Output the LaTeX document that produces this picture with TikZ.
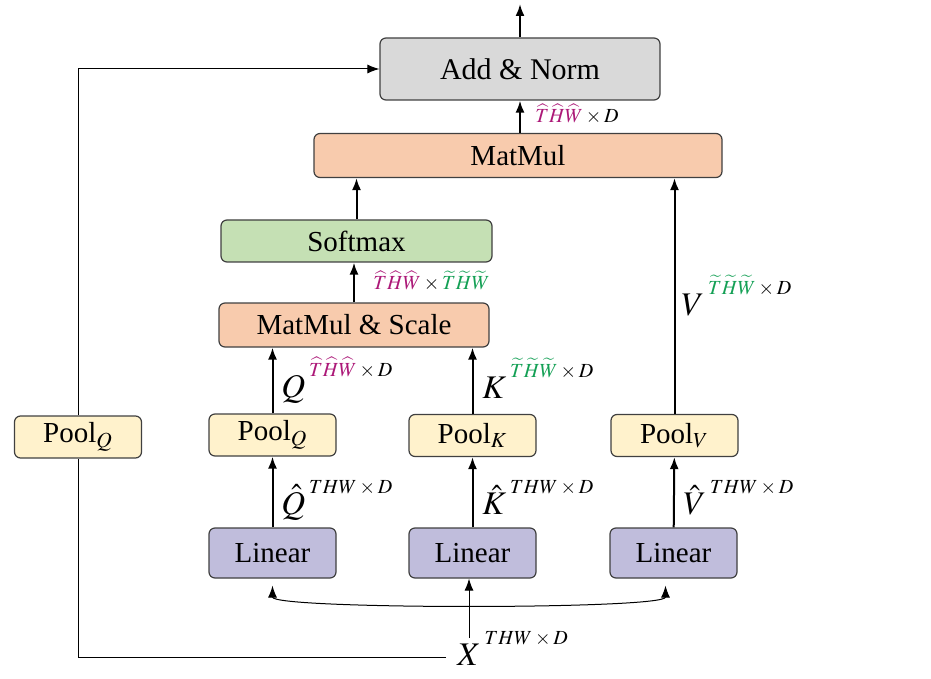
\documentclass[tikz,border=0pt]{standalone}
\usepackage{mathptmx}
\usepackage{fontspec}
\setmainfont{Liberation Serif}
\usetikzlibrary{arrows.meta, positioning}

\definecolor{addgray}{HTML}{D9D9D9}
\definecolor{mmorange}{HTML}{F8CBAD}
\definecolor{smgreen}{HTML}{C5E0B4}
\definecolor{poolyellow}{HTML}{FFF2CC}
\definecolor{linpurple}{HTML}{C0BDDC}
\definecolor{hatmag}{RGB}{172,25,120}
\definecolor{tilgreen}{RGB}{20,160,85}

\newcommand{\hatTHW}{\textcolor{hatmag}{\widehat{T}\widehat{H}\widehat{W}}}
\newcommand{\tilTHW}{\textcolor{tilgreen}{\widetilde{T}\widetilde{H}\widetilde{W}}}
\newcommand{\dimlab}[2]{$#1$\hspace{2pt}\raisebox{10.5pt}{\fontsize{10}{12}\selectfont$#2$}}

\begin{document}
\begin{tikzpicture}[x=0.5pt, y=-0.5pt,
    block/.style={rectangle, rounded corners=3pt, draw=black!75, line width=0.6pt,
                  text centered, inner sep=0pt, font=\fontsize{14.5}{17}\selectfont},
    addbox/.style={block, fill=addgray, minimum width=140pt, minimum height=31pt,
                   font=\fontsize{15}{18}\selectfont},
    mmbox/.style={block, fill=mmorange, minimum height=22pt},
    smbox/.style={block, fill=smgreen, minimum width=135.5pt, minimum height=21pt},
    poolbox/.style={block, fill=poolyellow, minimum width=63.5pt, minimum height=21pt},
    linbox/.style={block, fill=linpurple, minimum width=63.5pt, minimum height=25pt},
    arrow/.style={-{Latex[length=6pt, width=4.5pt]}, line width=1pt},
    thinarrow/.style={-{Latex[length=6pt, width=4.5pt]}, line width=0.5pt},
    thinline/.style={line width=0.5pt},
    dimlabel/.style={anchor=base west, inner sep=0pt, font=\fontsize{16.5}{19}\selectfont},
    sizelabel/.style={anchor=base west, inner sep=0pt, font=\fontsize{10}{12}\selectfont}]

    \useasboundingbox (0,0) rectangle (931,679);

    % Boxes
    \node[addbox] (addnorm) at (520,69) {Add \& Norm};
    \node[mmbox, minimum width=204pt] (matmul) at (518,155.5) {MatMul};
    \node[smbox] (softmax) at (356.5,241) {Softmax};
    \node[mmbox, minimum width=135pt] (mmscale) at (354,325) {MatMul \& Scale};

    \node[poolbox] (poolL) at (78,437) {Pool$_Q$};
    \node[poolbox] (poolQ) at (272.5,435) {Pool$_Q$};
    \node[poolbox] (poolK) at (472.5,435.5) {Pool$_K$};
    \node[poolbox] (poolV) at (674.5,435.5) {Pool$_V$};

    \node[linbox] (linQ) at (272.5,553) {Linear};
    \node[linbox] (linK) at (472.5,553) {Linear};
    \node[linbox] (linV) at (673.5,553) {Linear};

    % Labels
    \node[dimlabel] (qhat) at (281,514) {\dimlab{\hat{Q}}{THW \times D}};
    \node[dimlabel] (khat) at (482,514) {\dimlab{\hat{K}}{THW \times D}};
    \node[dimlabel] (vhat) at (683,514) {\dimlab{\hat{V}}{THW \times D}};
    \node[dimlabel] (qlab) at (281,397) {\dimlab{Q}{\hatTHW \times D}};
    \node[dimlabel] (klab) at (482,398) {\dimlab{K}{\tilTHW \times D}};
    \node[dimlabel] (vlab) at (681,315) {\dimlab{V}{\tilTHW \times D}};
    \node[dimlabel] (xlab) at (457,665) {\dimlab{X}{THW \times D}};
    \node[sizelabel] (attsize) at (373,290) {$\hatTHW \times \tilTHW$};
    \node[sizelabel] (outsize) at (535,123) {$\hatTHW \times D$};

    \coordinate (out) at (520,4);
    \coordinate (xtop) at (469,638);
    \coordinate (xleft) at (446,657);

    % Arrows
    \draw[arrow] (addnorm.north) -- (out);
    \draw[arrow] (matmul.north -| addnorm) -- (addnorm.south);
    \draw[arrow] (softmax.north) -- (softmax.north |- matmul.south);
    \draw[arrow] (mmscale.north) -- (mmscale.north |- softmax.south);
    \draw[arrow] (poolQ.north) -- (poolQ.north |- mmscale.south);
    \draw[arrow] (poolK.north) -- (poolK.north |- mmscale.south);
    \draw[arrow] (poolV.north) -- (poolV.north |- matmul.south);
    \draw[arrow] (linQ) -- (poolQ);
    \draw[arrow] (linK) -- (poolK);
    \draw[arrow] (linV) -- (poolV);

    \draw[thinarrow] (xtop) -- (xtop |- linK.south);
    \draw[thinarrow, {Latex[length=6pt, width=4.5pt]}-{Latex[length=6pt, width=4.5pt]}]
        ([yshift=-3.5pt]linQ.south) .. controls +(0,24) and +(0,24) .. ([xshift=-4pt, yshift=-3.5pt]linV.south);
    \draw[thinline] (xleft) -| (poolL.south);
    \draw[thinarrow] (poolL.north) |- (addnorm.west);

\end{tikzpicture}
\end{document}
